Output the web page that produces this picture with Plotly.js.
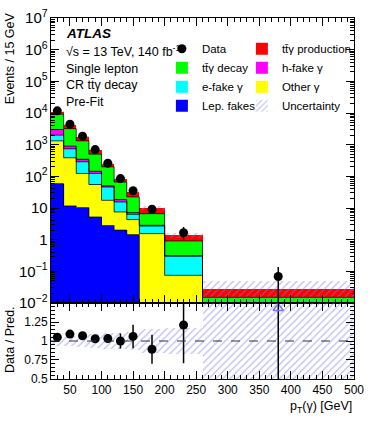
<!DOCTYPE html>
<html>
<head>
<meta charset="utf-8">
<script src="https://cdn.plot.ly/plotly-3.0.1.min.js"></script>
<style>
  html, body { margin: 0; padding: 0; background: #fff; }
  #plot { width: 374px; height: 422px; }
</style>
</head>
<body>
<div id="plot"></div>
<script>
// bin edges in pT(gamma) [GeV]
const edges = [20, 40, 60, 80, 100, 120, 140, 160, 200, 260, 500];

// stacked predictions per bin (events / 15 GeV), bottom to top
const lepFakes  = [59, 11.6, 10.3, 5.2, 2.8, 2.0, 1.45, 0.003, 0.001, 0.0005];
const otherGam  = [1261, 374, 113, 50, 14.7, 5.5, 2.85, 1.55, 0.074, 0.004];
const eFake     = [680, 354, 165, 68, 28.5, 8, 2.0, 1.15, 0.226, 0.004];
const hFake     = [1020, 160, 59, 22, 4, 3, 0.9, 0.14, 0.01, 0.0006];
const ttyDecay  = [6080, 2300, 973, 355, 150, 47.5, 15.2, 3.76, 0.6, 0.006];
const ttyProd   = [2040, 880, 420, 180, 50, 19, 10.6, 3.6, 0.46, 0.0134];

// data and its errors
const dataVals    = [11700, 4450, 1860, 700, 258, 85, 35, 9.1, 1.66, 0.069];
const dataErrUp   = [110, 90, 50, 27, 14, 8.5, 5.1, 1.95, 0.85, 0.068];
const dataErrDown = [110, 90, 50, 27, 14, 8.5, 5.1, 1.95, 0.69, 0.0685];

// relative uncertainty on the prediction
const relUnc = [0.06, 0.07, 0.08, 0.09, 0.10, 0.11, 0.12, 0.16, 0.17, 0.75];

const centers = [], widths = [];
for (let i = 0; i < edges.length - 1; i++) {
	centers.push((edges[i] + edges[i+1]) / 2);
	widths.push(edges[i+1] - edges[i]);
}

const FONT = "Liberation Sans, Arial, sans-serif";
const HATCH = "#7878ee";

// legend: left column = "legend", right column = "legend2"
let comps = [
	{name: "Lep. fakes", y: lepFakes, color: "#0000ff", leg: "legend", rank: 4},
	{name: "Other \u03b3", y: otherGam, color: "#ffff00", leg: "legend2", rank: 3},
	{name: "e-fake \u03b3", y: eFake, color: "#00ffff", leg: "legend", rank: 3},
	{name: "h-fake \u03b3", y: hFake, color: "#ff00ff", leg: "legend2", rank: 2},
	{name: "tt\u0304\u03b3 decay", y: ttyDecay, color: "#00ff00", leg: "legend", rank: 2},
	{name: "tt\u0304\u03b3 production", y: ttyProd, color: "#ff0000", leg: "legend2", rank: 1}
];

let traces = [];
let cum = centers.map(() => 0);
let levels = [];
comps.forEach((c, k) => {
	let t = {
		type: "bar", x: centers, width: widths, y: c.y,
		name: c.name, legend: c.leg, legendrank: c.rank,
		marker: {color: c.color, line: {width: 0}},
		xaxis: "x", yaxis: "y", hoverinfo: "skip"
	};
	if (k > 0) t.base = cum.slice();
	traces.push(t);
	cum = cum.map((v, i) => v + c.y[i]);
	levels.push(cum.slice());
});
const total = cum;

// step outlines of every stack level
levels.forEach((lv, k) => {
	traces.push({
		type: "scatter", mode: "lines", x: edges, y: lv.concat([lv[lv.length-1]]),
		line: {shape: "hv", color: k == levels.length - 1 ? "rgba(0,0,0,0)" : "rgba(0,0,0,0.75)", width: 1},
		showlegend: false, xaxis: "x", yaxis: "y", hoverinfo: "skip"
	});
});

// uncertainty band, main panel
traces.push({
	type: "bar", x: centers, width: widths,
	base: total.map((v, i) => v * (1 - relUnc[i])),
	y: total.map((v, i) => 2 * v * relUnc[i]),
	name: "Uncertainty", legend: "legend2", legendrank: 4,
	marker: {color: "rgba(0,0,0,0)", line: {width: 0},
		pattern: {shape: "/", fgcolor: HATCH, bgcolor: "rgba(0,0,0,0)", size: 5, solidity: 0.25, fillmode: "overlay"}},
	xaxis: "x", yaxis: "y", hoverinfo: "skip"
});

// data, main panel
traces.push({
	type: "scatter", mode: "markers", x: centers, y: dataVals, name: "Data", legend: "legend", legendrank: 1,
	marker: {color: "#000", size: 9},
	error_y: {type: "data", symmetric: false, array: dataErrUp, arrayminus: dataErrDown, color: "#000", thickness: 1.5, width: 0},
	xaxis: "x", yaxis: "y", hoverinfo: "skip"
});

// ratio panel
traces.push({
	type: "bar", x: centers, width: widths,
	base: relUnc.map(r => 1 - r), y: relUnc.map(r => 2 * r),
	showlegend: false,
	marker: {color: "rgba(0,0,0,0)", line: {width: 0},
		pattern: {shape: "/", fgcolor: HATCH, bgcolor: "rgba(0,0,0,0)", size: 5, solidity: 0.25, fillmode: "overlay"}},
	xaxis: "x2", yaxis: "y2", hoverinfo: "skip"
});

const ratio = dataVals.map((d, i) => d / total[i]);
const ratioMax = 1.5;
traces.push({
	type: "scatter", mode: "markers", x: centers, y: ratio, showlegend: false,
	marker: {color: "#000", size: 9},
	error_y: {type: "data", symmetric: false,
		array: dataErrUp.map((e, i) => e / total[i]),
		arrayminus: dataErrDown.map((e, i) => e / total[i]),
		color: "#000", thickness: 1.5, width: 0},
	xaxis: "x2", yaxis: "y2", hoverinfo: "skip"
});

// points above the ratio range
let offX = [], offY = [];
ratio.forEach((r, i) => { if (r > ratioMax) { offX.push(centers[i]); offY.push(ratioMax - 0.07); } });
traces.push({
	type: "scatter", mode: "markers", x: offX, y: offY, showlegend: false,
	marker: {symbol: "triangle-up-open", color: HATCH, size: 9, line: {width: 1.5}},
	xaxis: "x2", yaxis: "y2", hoverinfo: "skip"
});

const split = 0.2105;
const tickFont = {family: FONT, size: 12, color: "#000"};
const xCommon = {
	range: [edges[0], edges[edges.length-1]], dtick: 50, tick0: 0,
	ticks: "inside", ticklen: 8, tickcolor: "#000", mirror: "allticks",
	showline: true, linecolor: "#000", linewidth: 1, showgrid: false, zeroline: false,
	minor: {dtick: 10, ticks: "inside", ticklen: 4, tickcolor: "#000"},
	tickfont: tickFont
};
const legCommon = {
	orientation: "v", yanchor: "top", xanchor: "left", traceorder: "normal",
	bgcolor: "rgba(0,0,0,0)", font: {family: FONT, size: 11.5, color: "#000"},
	itemwidth: 30, tracegroupgap: 0
};

const layout = {
	width: 374, height: 422,
	margin: {l: 51, r: 20, t: 18, b: 43},
	paper_bgcolor: "#fff", plot_bgcolor: "#fff",
	barmode: "overlay", bargap: 0,
	font: {family: FONT, size: 12, color: "#000"},
	showlegend: true,
	legend: Object.assign({}, legCommon, {x: 0.366, y: 0.955}),
	legend2: Object.assign({}, legCommon, {x: 0.63, y: 0.955}),
	xaxis: Object.assign({}, xCommon, {anchor: "y", showticklabels: false, matches: "x2"}),
	xaxis2: Object.assign({}, xCommon, {anchor: "y2"}),
	yaxis: {
		domain: [split, 1], type: "log", range: [-2, 7], dtick: 1, exponentformat: "power",
		ticks: "inside", ticklen: 8, tickcolor: "#000", mirror: "allticks",
		showline: true, linecolor: "#000", linewidth: 1, showgrid: false, zeroline: false,
		minor: {dtick: "D1", ticks: "inside", ticklen: 4, tickcolor: "#000"},
		tickfont: tickFont
	},
	yaxis2: {
		domain: [0, split], range: [0.5, 1.5],
		tickvals: [0.5, 0.75, 1, 1.25], ticktext: ["0.5", "0.75", "1", "1.25"],
		ticks: "inside", ticklen: 8, tickcolor: "#000", mirror: "allticks",
		showline: true, linecolor: "#000", linewidth: 1, showgrid: false, zeroline: false,
		minor: {dtick: 0.05, ticks: "inside", ticklen: 4, tickcolor: "#000"},
		tickfont: tickFont
	},
	shapes: [{
		type: "line", xref: "x2 domain", x0: 0, x1: 1, yref: "y2", y0: 1, y1: 1,
		line: {color: "#333", width: 1, dash: "dash"}
	}],
	annotations: [
		{text: "<b><i>ATLAS</i></b>", x: 0.043, y: 0.958, xref: "paper", yref: "paper", xanchor: "left", yanchor: "middle", showarrow: false, font: {family: FONT, size: 13.5}},
		{text: "\u221as = 13 TeV, 140 fb<sup>-1</sup>", x: 0.043, y: 0.908, xref: "paper", yref: "paper", xanchor: "left", yanchor: "middle", showarrow: false, font: {family: FONT, size: 12.5}},
		{text: "Single lepton", x: 0.043, y: 0.859, xref: "paper", yref: "paper", xanchor: "left", yanchor: "middle", showarrow: false, font: {family: FONT, size: 12.5}},
		{text: "CR tt\u0304\u03b3 decay", x: 0.043, y: 0.814, xref: "paper", yref: "paper", xanchor: "left", yanchor: "middle", showarrow: false, font: {family: FONT, size: 12.5}},
		{text: "Pre-Fit", x: 0.043, y: 0.768, xref: "paper", yref: "paper", xanchor: "left", yanchor: "middle", showarrow: false, font: {family: FONT, size: 12.5}},
		{text: "Events / 15 GeV", textangle: -90, x: -0.135, y: 0.889, xref: "paper", yref: "paper", xanchor: "center", yanchor: "middle", showarrow: false, font: {family: FONT, size: 12.5}},
		{text: "Data / Pred.", textangle: -90, x: -0.135, y: 0.108, xref: "paper", yref: "paper", xanchor: "center", yanchor: "middle", showarrow: false, font: {family: FONT, size: 12.5}},
		{text: "p<sub>T</sub>(\u03b3) [GeV]", x: 1, y: -0.077, xref: "paper", yref: "paper", xanchor: "right", yanchor: "middle", showarrow: false, font: {family: FONT, size: 12.5}}
	]
};

Plotly.newPlot("plot", traces, layout, {staticPlot: true, displayModeBar: false});
</script>
</body>
</html>
